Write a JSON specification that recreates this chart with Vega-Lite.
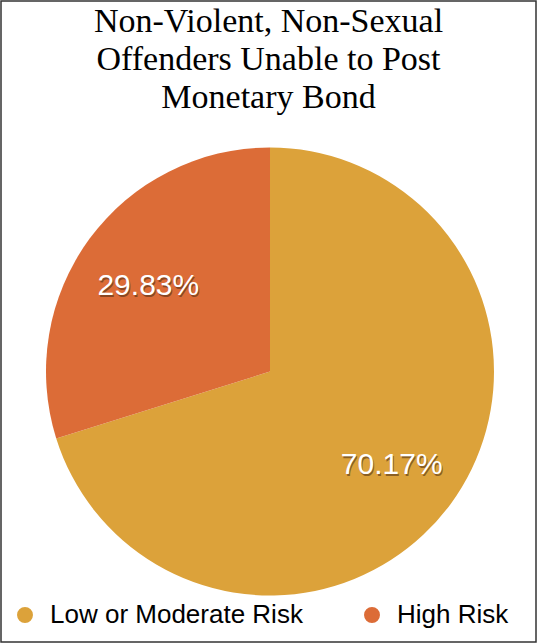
{
  "$schema": "https://vega.github.io/schema/vega-lite/v6.json",
  "autosize": {"type": "none"},
  "width": 535,
  "height": 641,
  "padding": 1,
  "background": "white",
  "view": {"stroke": "#333333", "strokeWidth": 1.5},
  "title": {
    "text": ["Non-Violent, Non-Sexual", "Offenders Unable to Post", "Monetary Bond"],
    "font": "Liberation Serif",
    "fontSize": 34,
    "fontWeight": "normal",
    "color": "black",
    "lineHeight": 38,
    "anchor": "middle",
    "baseline": "top",
    "offset": -114
  },
  "data": {
    "values": [
      {"risk": "Low or Moderate Risk", "pct": 70.17, "label": "70.17%", "idx": 1},
      {"risk": "High Risk", "pct": 29.83, "label": "29.83%", "idx": 2}
    ]
  },
  "encoding": {
    "theta": {"field": "pct", "type": "quantitative", "stack": true},
    "order": {"field": "idx", "type": "quantitative"},
    "color": {
      "field": "risk",
      "type": "nominal",
      "scale": {"domain": ["Low or Moderate Risk", "High Risk"], "range": ["#DCA23A", "#DC6C37"]},
      "legend": {
        "orient": "none",
        "legendX": 11,
        "legendY": 601,
        "direction": "horizontal",
        "title": null,
        "padding": 0,
        "symbolType": "circle",
        "symbolSize": 254,
        "symbolOpacity": 1,
        "symbolStrokeWidth": 0,
        "labelFont": "Liberation Sans",
        "labelFontSize": 26,
        "labelColor": "black",
        "labelLimit": 500,
        "labelOffset": 12,
        "columnPadding": 56
      }
    }
  },
  "layer": [
    {"mark": {"type": "arc", "outerRadius": 224, "yOffset": 50, "xOffset": 1.5}},
    {
      "mark": {"type": "text", "radius": 151, "yOffset": 56, "xOffset": 2.5, "font": "Liberation Sans", "fontSize": 30, "fill": "#4a2a10", "opacity": 0.55},
      "encoding": {"text": {"field": "label"}, "color": {"value": "#4a2a10"}}
    },
    {
      "mark": {"type": "text", "radius": 151, "yOffset": 54, "xOffset": 1.5, "font": "Liberation Sans", "fontSize": 30, "fill": "white"},
      "encoding": {"text": {"field": "label"}, "color": {"value": "white"}}
    }
  ]
}
